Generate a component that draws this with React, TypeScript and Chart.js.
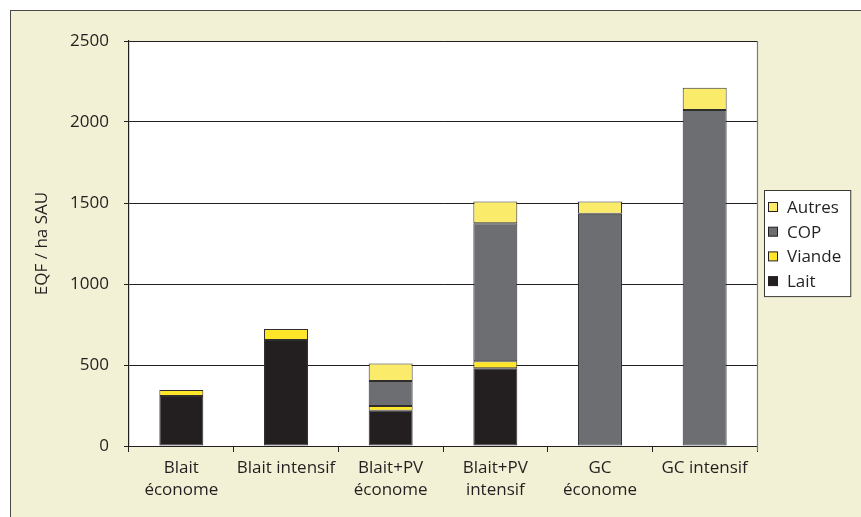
import React, { useEffect, useRef } from "react";
import { Chart, registerables } from "chart.js";

Chart.register(...registerables);

// Catégories d'exploitations (libellés sur deux lignes quand nécessaire)
const categories: (string | string[])[] = [
  ["Blait", "économe"],
  "Blait intensif",
  ["Blait+PV", "économe"],
  ["Blait+PV", "intensif"],
  ["GC", "économe"],
  "GC intensif",
];

// EQF / ha SAU par production
const lait: (number | null)[] = [308, 654, 218, 480, null, null];
const viande: (number | null)[] = [38, 68, 29, 43, null, null];
const cop: (number | null)[] = [null, null, 154, 852, 1434, 2074];
const autres: (number | null)[] = [null, null, 109, 135, 76, 138];

const yTicks = { min: 0, max: 2500, step: 500 };
const yTitle = "EQF / ha SAU";

const INK = "#231F20";
const FONT = "'Open Sans', 'Noto Sans', sans-serif";
const FS = 17;
const BEIGE = "#F3F1D5";

// Fond blanc de la zone de tracé + bord droit gris
const plotBackground = {
  id: "plotBackground",
  beforeDraw(chart: any) {
    const { ctx, chartArea } = chart;
    ctx.save();
    ctx.fillStyle = "#ffffff";
    ctx.fillRect(chartArea.left, chartArea.top, chartArea.right - chartArea.left, chartArea.bottom - chartArea.top);
    ctx.restore();
  },
  afterDraw(chart: any) {
    const { ctx, chartArea } = chart;
    ctx.save();
    ctx.strokeStyle = "#7a7a7a";
    ctx.lineWidth = 1.2;
    ctx.beginPath();
    ctx.moveTo(chartArea.right + 0.5, chartArea.top);
    ctx.lineTo(chartArea.right + 0.5, chartArea.bottom + 5);
    ctx.stroke();
    ctx.restore();
  },
};

// Légende encadrée à droite, ordre inverse de l'empilement
const boxedLegend = {
  id: "boxedLegend",
  afterDraw(chart: any) {
    const { ctx, chartArea } = chart;
    const sets = [...chart.data.datasets].reverse();
    ctx.save();
    ctx.font = `${FS}px ${FONT}`;
    const textW = Math.max(...sets.map((d: any) => ctx.measureText(d.label).width));
    const left = chartArea.right + 7;
    const top = chartArea.top + 149;
    const rowH = 24.7;
    const w = 24 + textW + 8;
    const h = 17 + rowH * (sets.length - 1) + 15;
    ctx.fillStyle = "#ffffff";
    ctx.fillRect(left, top, w, h);
    ctx.strokeStyle = "#3a3a3a";
    ctx.lineWidth = 1;
    ctx.strokeRect(left + 0.5, top + 0.5, w, h);
    sets.forEach((d: any, i: number) => {
      const cy = top + 17 + i * rowH;
      ctx.fillStyle = d.backgroundColor;
      ctx.fillRect(left + 4.5, cy - 4.5, 9, 9);
      ctx.strokeStyle = INK;
      ctx.lineWidth = 1;
      ctx.strokeRect(left + 4.5, cy - 4.5, 9, 9);
      ctx.fillStyle = INK;
      ctx.textBaseline = "middle";
      ctx.textAlign = "left";
      ctx.fillText(d.label, left + 23, cy + 1);
    });
    ctx.restore();
  },
};

export default function App() {
  const ref = useRef<HTMLCanvasElement | null>(null);

  useEffect(() => {
    if (!ref.current) return;
    const barStyle = {
      borderColor: "#2e2e2e",
      borderWidth: 1,
      borderSkipped: false as const,
      barPercentage: 0.42,
      categoryPercentage: 1,
    };
    const chart = new Chart(ref.current, {
      type: "bar",
      data: {
        labels: categories as any,
        datasets: [
          { label: "Lait", data: lait, backgroundColor: INK, ...barStyle },
          { label: "Viande", data: viande, backgroundColor: "#FFE629", ...barStyle },
          { label: "COP", data: cop, backgroundColor: "#6D6E71", ...barStyle },
          { label: "Autres", data: autres, backgroundColor: "#FBEB6B", ...barStyle },
        ],
      },
      options: {
        responsive: false,
        animation: false,
        devicePixelRatio: 1,
        layout: { padding: { left: 0, top: 41, right: 104, bottom: 0 } },
        plugins: {
          legend: { display: false },
          tooltip: { enabled: false },
        },
        scales: {
          x: {
            stacked: true,
            grid: {
              offset: true,
              drawOnChartArea: false,
              drawTicks: true,
              tickLength: 6,
              color: INK,
              lineWidth: 1,
            },
            border: { display: true, color: INK, width: 1 },
            ticks: {
              color: INK,
              padding: 5,
              maxRotation: 0,
              autoSkip: false,
              font: { family: FONT, size: FS, lineHeight: 22 / FS },
            },
            afterFit(scale: any) {
              scale.height = 71;
            },
          },
          y: {
            stacked: true,
            min: yTicks.min,
            max: yTicks.max,
            ticks: {
              stepSize: yTicks.step,
              color: INK,
              padding: 15,
              font: { family: FONT, size: FS },
              callback: (v: any) => String(v),
            },
            grid: {
              color: INK,
              lineWidth: 1,
              drawTicks: true,
              tickLength: 5,
            },
            border: { display: true, color: INK, width: 1.2 },
            title: {
              display: true,
              text: yTitle,
              color: INK,
              padding: { top: 32, bottom: 0 },
              font: { family: FONT, size: FS },
            },
            afterFit(scale: any) {
              scale.width = 129;
            },
          },
        },
      },
      plugins: [plotBackground, boxedLegend],
    });
    return () => chart.destroy();
  }, []);

  return (
    <div style={{ position: "fixed", left: 0, top: 0, width: 861, height: 517, background: "#ffffff", overflow: "hidden" }}>
      <div
        style={{
          position: "absolute",
          left: 10,
          top: 10,
          right: -2,
          bottom: -2,
          background: BEIGE,
          borderTop: "1.5px solid #4a4a4a",
          borderLeft: "1.5px solid #4a4a4a",
        }}
      />
      <canvas ref={ref} width={861} height={517} style={{ position: "absolute", left: 0, top: 0, width: 861, height: 517 }} />
    </div>
  );
}
